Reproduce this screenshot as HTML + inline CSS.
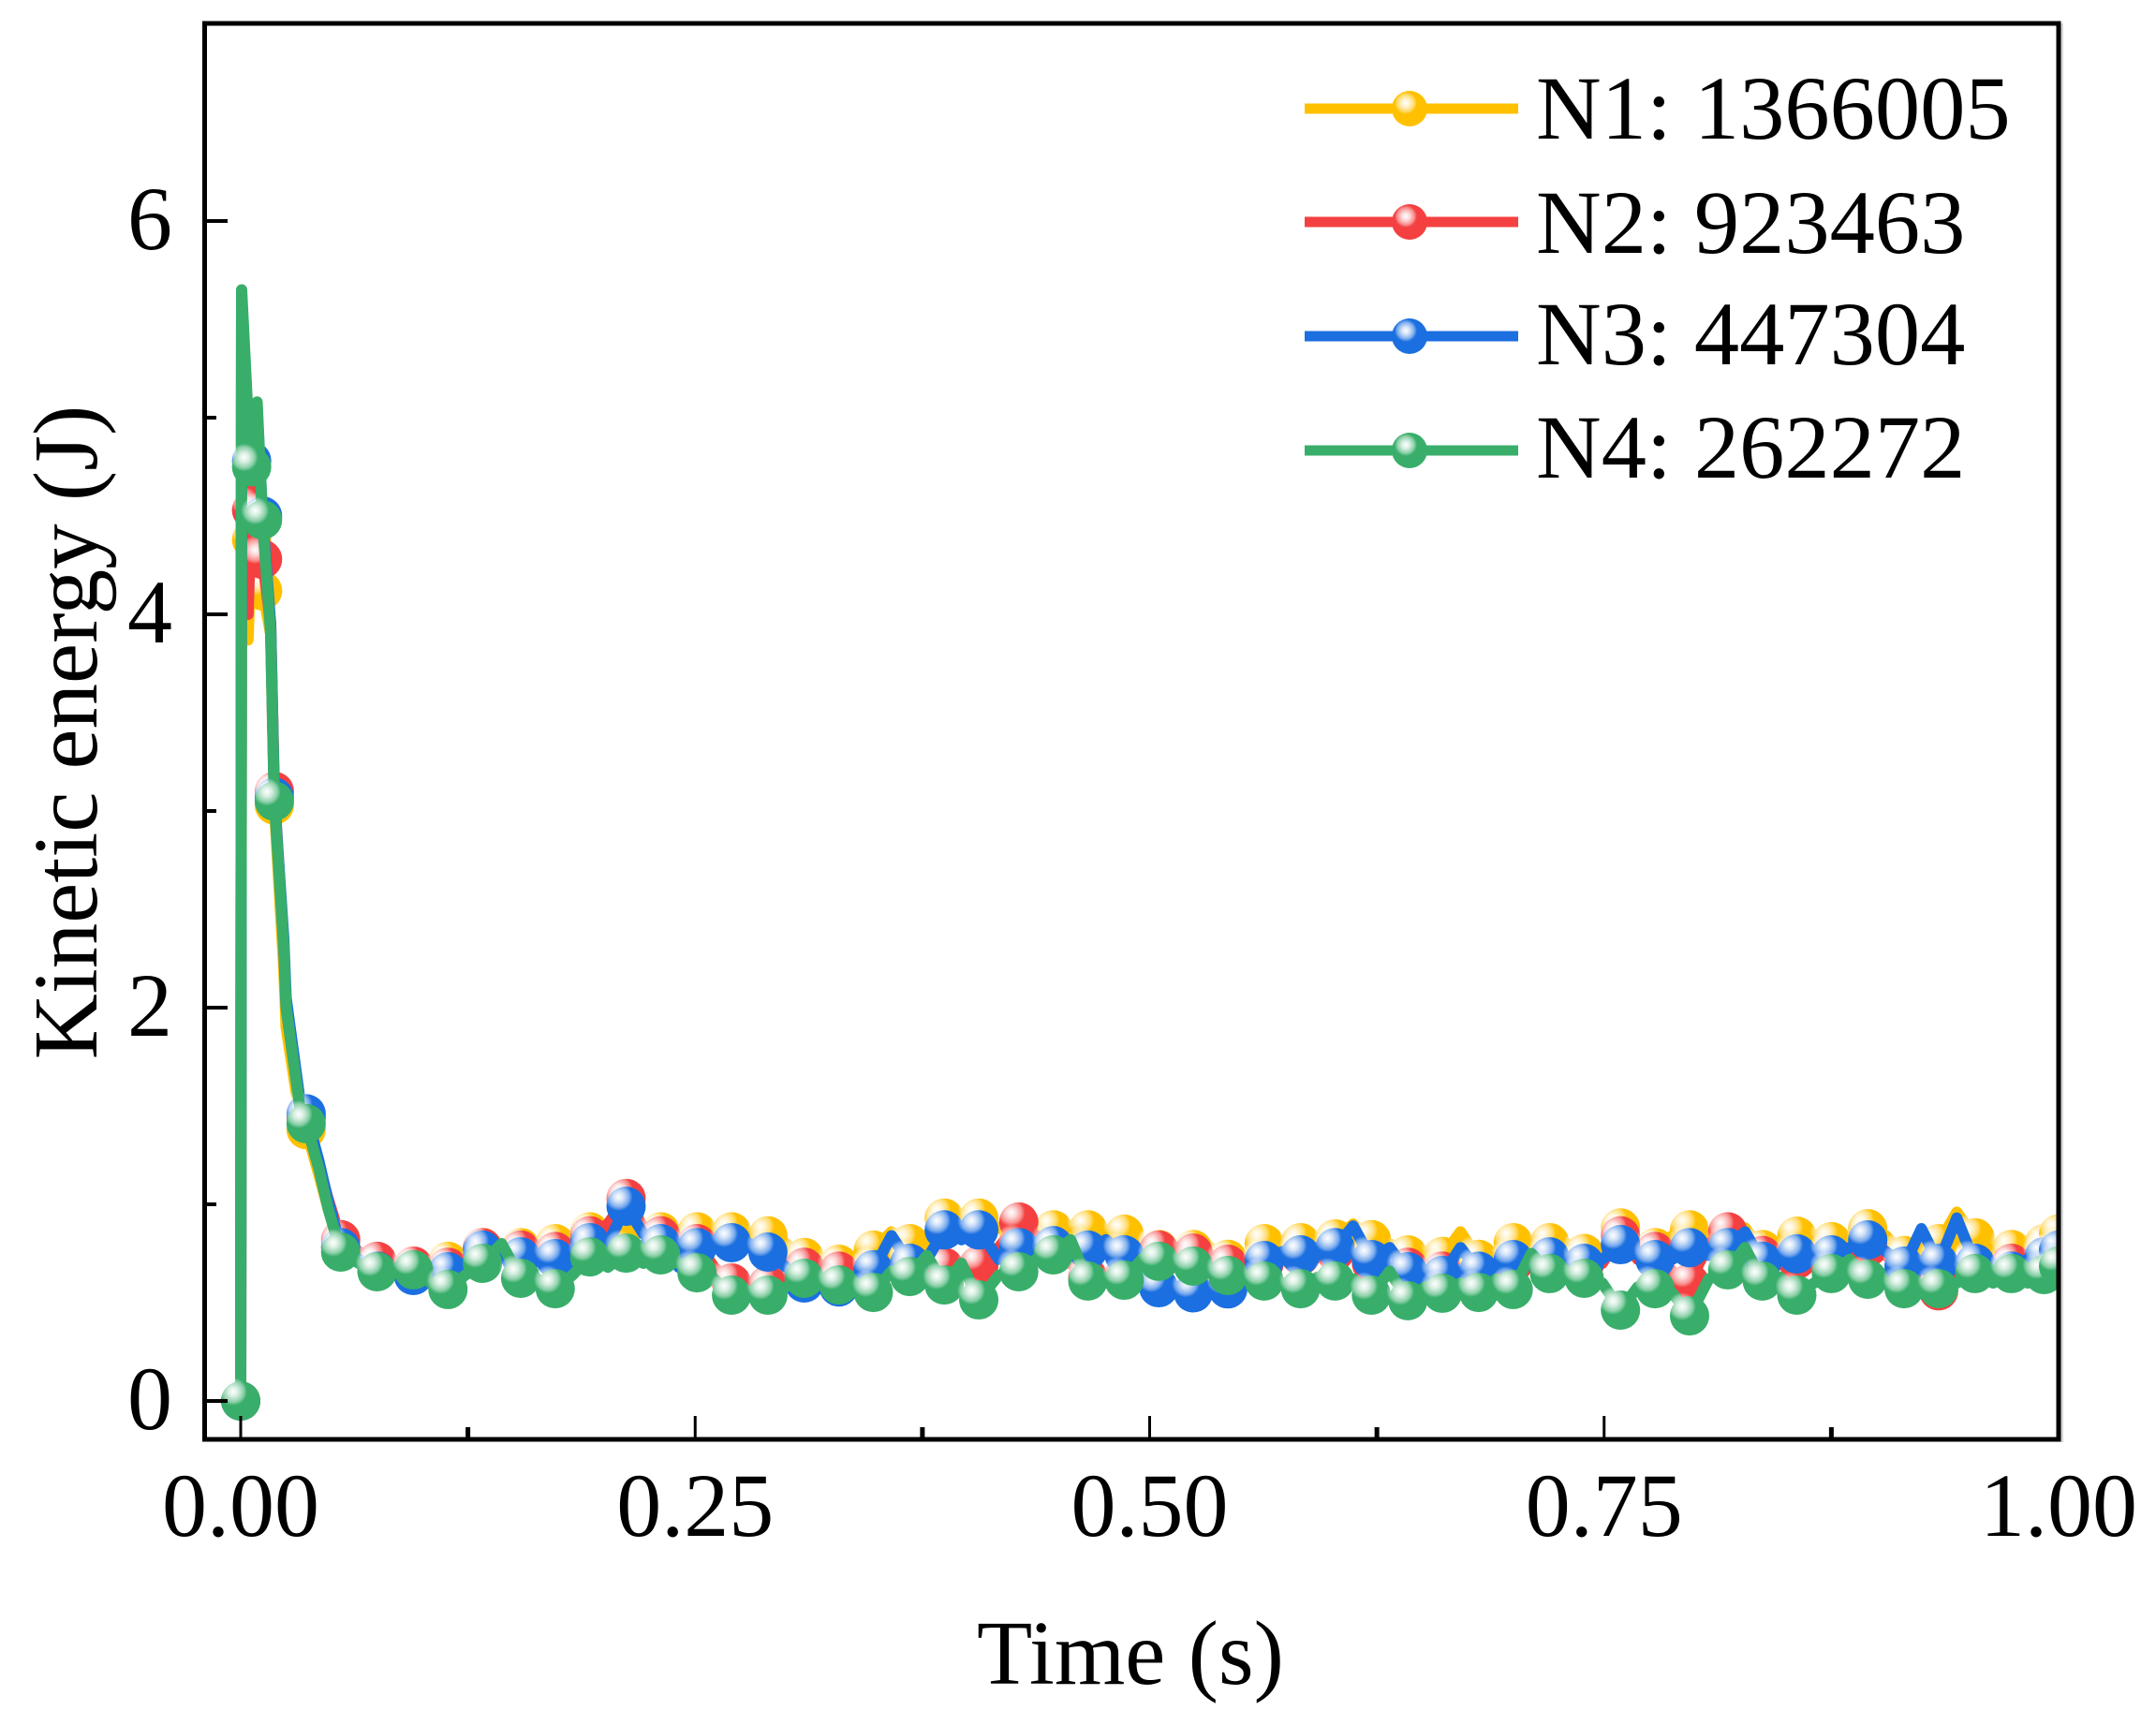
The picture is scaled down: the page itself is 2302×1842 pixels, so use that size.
<!DOCTYPE html>
<html lang="en">
<head>
<meta charset="utf-8">
<title>Kinetic energy vs time</title>
<style>
html,body{margin:0;padding:0;background:#fff;}
svg{display:block;}
text{font-family:"Liberation Serif",serif;font-size:96px;fill:#000;}
</style>
</head>
<body>
<svg id="chart" xmlns="http://www.w3.org/2000/svg" width="2302" height="1842" viewBox="0 0 2302 1842">
  <defs>
    <radialGradient id="shine">
      <stop offset="0" stop-color="#fff" stop-opacity="1"/>
      <stop offset="0.35" stop-color="#fff" stop-opacity="0.8"/>
      <stop offset="0.75" stop-color="#fff" stop-opacity="0.42"/>
      <stop offset="1" stop-color="#fff" stop-opacity="0"/>
    </radialGradient>
    <clipPath id="plot-clip"><rect x="218" y="25" width="1980" height="1512"/></clipPath>
  </defs>
  <g id="series-layer" clip-path="url(#plot-clip)"></g>
  <rect x="2200" y="25" width="3" height="1515" fill="#d6d6d6"/>
  <rect x="218.5" y="25" width="1979.5" height="1512" fill="none" stroke="#000" stroke-width="5"/>
  <g id="tick-layer"></g>
  <text x="1207" y="1798" text-anchor="middle" style="font-size:97px">Time (s)</text>
  <text transform="translate(103 782) rotate(-90)" text-anchor="middle" style="font-size:97px">Kinetic energy (J)</text>
  <g id="legend-layer"></g>
</svg>
<script>
// Shared marker sample times (s)
const times = [
  0, .006, .012, .0185, .036,
  .055, .075, .095, .114, .133,
  .154, .173, .192, .212, .231,
  .251, .270, .290, .310, .329,
  .348, .368, .387, .406, .428,
  .447, .466, .486, .505, .524,
  .543, .563, .583, .602, .622,
  .642, .661, .681, .70, .72,
  .739, .759, .778, .797, .818,
  .837, .856, .875, .895, .915,
  .934, .954, .974, .992, 1.0
];
// Kinetic energy at each marker (J)
const n1Values = [
  0, 4.38, 4.12, 3.03, 1.38,
  .78, .70, .68, .71, .78,
  .78, .80, .86, .90, .86,
  .86, .86, .84, .73, .695,
  .767, .80, .93, .93, .86,
  .87, .87, .848, .77, .77,
  .72, .80, .805, .824, .82,
  .743, .735, .72, .805, .805,
  .75, .88, .78, .87, .84,
  .77, .838, .81, .876, .74,
  .80, .83, .77, .80, .85
];
const n2Values = [
  0, 4.53, 4.28, 3.1, 1.44,
  .82, .71, .686, .68, .78,
  .767, .76, .84, 1.03, .84,
  .80, .60, .59, .68, .66,
  .66, .70, .68, .69, .91,
  .75, .63, .64, .767, .752,
  .695, .70, .74, .76, .70,
  .68, .66, .65, .70, .72,
  .69, .84, .76, .60, .86,
  .74, .72, .73, .78, .68,
  .56, .70, .70, .733, .74
];
const n3Values = [
  0, 4.78, 4.50, 3.07, 1.46,
  .78, .66, .638, .657, .767,
  .733, .724, .805, .99, .80,
  .78, .805, .757, .60, .58,
  .667, .70, .87, .87, .78,
  .79, .767, .743, .576, .55,
  .57, .714, .743, .78, .719,
  .657, .638, .66, .719, .733,
  .70, .795, .719, .78, .78,
  .71, .748, .743, .819, .686,
  .70, .70, .66, .733, .767
];
const n4Values = [
  0, 4.75, 4.48, 3.05, 1.41,
  .757, .657, .667, .567, .70,
  .624, .571, .733, .752, .743,
  .652, .538, .538, .624, .59,
  .552, .633, .59, .514, .657,
  .743, .61, .614, .71, .686,
  .638, .61, .571, .61, .538,
  .51, .548, .552, .567, .648,
  .624, .462, .571, .433, .667,
  .61, .538, .648, .619, .571,
  .571, .648, .648, .643, .686
];
// Line-only samples in the initial transient
const earlyTimes = [.0005, .004, .009, .0165, .0237, .025, .033, .043, .048];
const earlyN1 = [5.5, 3.87, 4.8, 3.9, 2.2, 1.9, 1.42, 1.15, .98];
const earlyN2 = [5.55, 4.0, 4.9, 3.95, 2.3, 2.0, 1.47, 1.2, 1.03];
const earlyN3 = [5.6, 4.95, 5.05, 3.95, 2.35, 2.05, 1.5, 1.22, 1.02];
const earlyN4 = [5.65, 5.0, 5.08, 3.9, 2.31, 2.0, 1.46, 1.18, .98];
// Line-only fluctuation samples between markers
const midTimes = [
  .065, .085, .1045, .1235, .1435,
  .1635, .1825, .202, .2215, .241,
  .2605, .28, .30, .3195, .3385,
  .358, .3775, .3965, .417, .4375,
  .4565, .476, .4955, .5145, .5335,
  .553, .573, .5925, .612, .632,
  .6515, .671, .6905, .71, .7295,
  .749, .7685, .7875, .8075, .8275,
  .8465, .8655, .885, .905, .9245,
  .944, .964, .983, .996
];
const midN1 = [
  .74, .69, .68, .74, .78,
  .78, .84, .88, .88, .84,
  .86, .85, .80, .70, .72,
  .86, .84, .93, .88, .88,
  .86, .86, .80, .76, .78,
  .72, .78, .80, .90, .80,
  .74, .86, .72, .80, .80,
  .74, .76, .84, .86, .88,
  .80, .84, .82, .84, .80,
  .96, .74, .78, .84
];
const midN2 = [
  .76, .69, .68, .72, .77,
  .76, .80, .90, .88, .72,
  .68, .58, .62, .66, .66,
  .68, .68, .66, .78, .84,
  .70, .62, .70, .78, .72,
  .70, .72, .74, .74, .70,
  .66, .66, .68, .70, .72,
  .70, .72, .66, .80, .84,
  .74, .72, .74, .74, .62,
  .62, .70, .72, .74
];
const midN3 = [
  .72, .66, .64, .70, .76,
  .74, .74, .80, .85, .68,
  .78, .80, .68, .62, .60,
  .84, .72, .82, .72, .72,
  .76, .82, .68, .56, .55,
  .62, .76, .78, .89, .78,
  .64, .78, .68, .72, .72,
  .72, .74, .72, .74, .86,
  .72, .72, .78, .76, .876,
  .93, .70, .72, .76
];
const midN4 = [
  .70, .66, .60, .64, .80,
  .62, .64, .68, .70, .70,
  .62, .56, .58, .62, .60,
  .66, .74, .70, .64, .72,
  .82, .60, .72, .70, .66,
  .64, .60, .63, .62, .66,
  .58, .60, .62, .75, .66,
  .60, .58, .55, .62, .78,
  .63, .60, .72, .60, .56,
  .60, .60, .60, .64
];

const seriesNames = ['N1: 1366005', 'N2: 923463', 'N3: 447304', 'N4: 262272'];
const seriesKeys = ['n1', 'n2', 'n3', 'n4'];
const seriesColors = ['#FFC000', '#F44040', '#1B6FE0', '#38AE6A'];
const seriesValues = [n1Values, n2Values, n3Values, n4Values];
const seriesEarly = [earlyN1, earlyN2, earlyN3, earlyN4];
const seriesMid = [midN1, midN2, midN3, midN4];

const xTickValues = [0, .125, .25, .375, .5, .625, .75, .875, 1];
const xTickLabels = ['0.00', '', '0.25', '', '0.50', '', '0.75', '', '1.00'];
const yTickValues = [0, 1, 2, 3, 4, 5, 6];
const yTickLabels = ['0', '', '2', '', '4', '', '6'];

const NS = 'http://www.w3.org/2000/svg';
const xScale = t => 257 + 1941 * t;
const yScale = v => 1496 - 210 * v;
const seriesLayer = document.getElementById('series-layer');
const tickLayer = document.getElementById('tick-layer');
const legendLayer = document.getElementById('legend-layer');

function make(tag, attrs, parent) {
  const el = document.createElementNS(NS, tag);
  for (const k in attrs) el.setAttribute(k, attrs[k]);
  parent.appendChild(el);
  return el;
}

function drawMarker(parent, cx, cy, color, r, hr, dx, dy, key) {
  const dot = make('circle', {cx: cx, cy: cy, r: r, fill: color}, parent);
  
  
  const glint = make('circle', {cx: cx + dx, cy: cy + dy, r: hr, fill: 'url(#shine)'}, parent);
  
  
}

seriesValues.forEach((vals, s) => {
  const pts = times.map((t, i) => [t, vals[i]])
    .concat(earlyTimes.map((t, i) => [t, seriesEarly[s][i]]))
    .concat(midTimes.map((t, i) => [t, seriesMid[s][i]]))
    .sort((a, b) => a[0] - b[0]);
  const group = make('g', {}, seriesLayer);
  
  
  const line = make('polyline', {
    points: pts.map(p => xScale(p[0]).toFixed(1) + ',' + yScale(p[1]).toFixed(1)).join(' '),
    fill: 'none', stroke: seriesColors[s], 'stroke-width': 12, 'stroke-linejoin': 'round'
  }, group);
  
  
  times.forEach((t, i) => {
    drawMarker(group, xScale(t), yScale(vals[i]), seriesColors[s], 21, 15, -8, -10, seriesKeys[s]);
  });
});

xTickValues.forEach((t, i) => {
  const major = xTickLabels[i] !== '';
  const tick = make('line', {x1: xScale(t), x2: xScale(t), y1: 1537, y2: major ? 1512 : 1524, stroke: '#000', 'stroke-width': major ? 3 : 5}, tickLayer);
  
  
  if (major) {
    const label = make('text', {x: xScale(t), y: 1640, 'text-anchor': 'middle'}, tickLayer);
    label.textContent = xTickLabels[i];
    
    
  }
});

yTickValues.forEach((v, i) => {
  const major = yTickLabels[i] !== '';
  const tick = make('line', {x1: 218, x2: major ? 243 : 231, y1: yScale(v), y2: yScale(v), stroke: '#000', 'stroke-width': 4}, tickLayer);
  
  
  if (major) {
    const label = make('text', {x: 184, y: yScale(v) + 30, 'text-anchor': 'end'}, tickLayer);
    label.textContent = yTickLabels[i];
    
    
  }
});

const legendLineY = [116, 237, 359, 481];
const legendTextY = [148, 270, 389, 510];
seriesNames.forEach((name, s) => {
  const entry = make('g', {}, legendLayer);
  
  
  const swatch = make('line', {x1: 1393, x2: 1621, y1: legendLineY[s], y2: legendLineY[s], stroke: seriesColors[s], 'stroke-width': 11}, entry);
  
  
  drawMarker(entry, 1505, legendLineY[s], seriesColors[s], 19, 12, -4, -6, 'legend-' + seriesKeys[s]);
  const label = make('text', {x: 1640, y: legendTextY[s]}, entry);
  label.textContent = name;
  
  
  label.setAttribute('style', 'font-size:96.5px');
});
</script>
</body>
</html>
